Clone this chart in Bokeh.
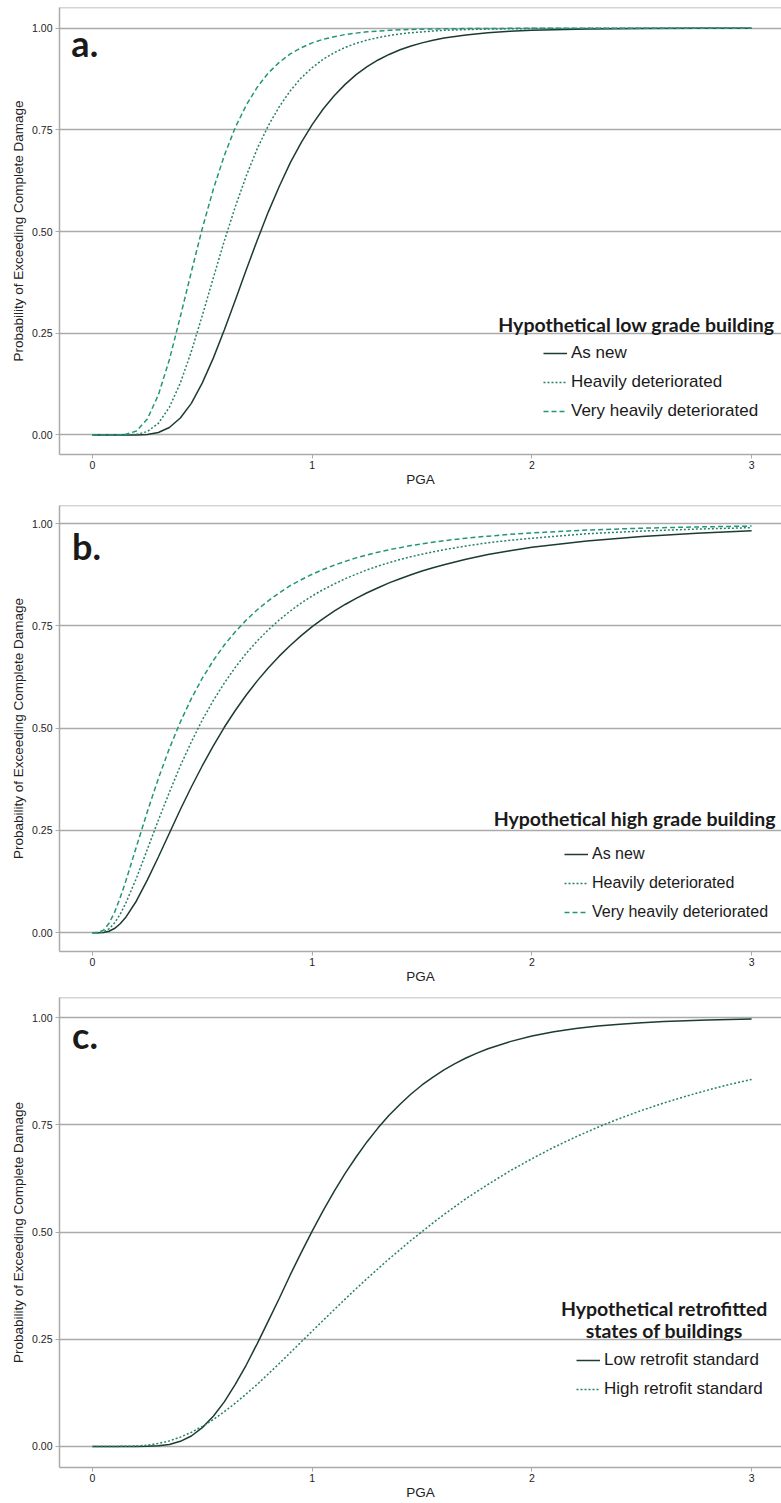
from bokeh.plotting import figure
from bokeh.layouts import column
from bokeh.models import (Range1d, FixedTicker, NumeralTickFormatter, Legend, LegendItem,
                          Label, Span)
from bokeh.embed import file_html
from bokeh.resources import INLINE

# ---------------- data ----------------
PGA_A = [0, 0.1, 0.15, 0.2, 0.25, 0.3, 0.35, 0.4, 0.45, 0.5, 0.55, 0.6, 0.65, 0.7, 0.75,
         0.8, 0.85, 0.9, 0.95, 1.0, 1.05, 1.1, 1.15, 1.2, 1.25, 1.3, 1.35, 1.4, 1.45, 1.5,
         1.55, 1.6, 1.7, 1.8, 1.9, 2.0, 2.25, 2.5, 2.75, 3.0]
A_NEW = [0, 0, 0, 0.0002, 0.0014, 0.0062, 0.0183, 0.0416, 0.0778, 0.128, 0.189, 0.258, 0.331,
         0.406, 0.479, 0.548, 0.611, 0.669, 0.719, 0.763, 0.8015, 0.834, 0.862, 0.886, 0.9054,
         0.922, 0.9356, 0.947, 0.9564, 0.964, 0.9705, 0.976, 0.9836, 0.989, 0.9925, 0.995,
         0.998, 0.9992, 0.9997, 0.9999]
A_HEAVY = [0, 0, 0.0001, 0.0014, 0.0085, 0.0287, 0.068, 0.128, 0.205, 0.294, 0.386, 0.477,
           0.561, 0.637, 0.704, 0.760, 0.807, 0.846, 0.878, 0.903, 0.9237, 0.940, 0.9527,
           0.963, 0.9709, 0.977, 0.9821, 0.986, 0.9890, 0.991, 0.9932, 0.995, 0.9967, 0.998,
           0.9987, 0.9992, 0.9997, 0.9999, 1.0, 1.0]
A_VHEAVY = [0, 0, 0.0011, 0.0099, 0.0395, 0.0985, 0.185, 0.291, 0.401, 0.508, 0.604, 0.687,
            0.756, 0.811, 0.855, 0.890, 0.916, 0.937, 0.952, 0.964, 0.9728, 0.979, 0.9845,
            0.988, 0.9911, 0.993, 0.9949, 0.996, 0.9970, 0.9977, 0.9983, 0.9986, 0.9992,
            0.9995, 0.9997, 0.9998, 1.0, 1.0, 1.0, 1.0]

PGA_B = [0, 0.025, 0.05, 0.075, 0.1, 0.125, 0.15, 0.2, 0.25, 0.3, 0.35, 0.4, 0.45, 0.5, 0.55,
         0.6, 0.65, 0.7, 0.75, 0.8, 0.85, 0.9, 0.95, 1.0, 1.05, 1.1, 1.15, 1.2, 1.25, 1.3,
         1.35, 1.4, 1.45, 1.5, 1.55, 1.6, 1.7, 1.8, 1.9, 2.0, 2.25, 2.5, 2.75, 3.0]
B_NEW = [0, 0, 0.0006, 0.0035, 0.0101, 0.0211, 0.0362, 0.0775, 0.129, 0.185, 0.243, 0.301,
         0.356, 0.408, 0.4566, 0.502, 0.543, 0.581, 0.6154, 0.647, 0.6758, 0.702, 0.7261,
         0.748, 0.7676, 0.786, 0.8021, 0.817, 0.8308, 0.843, 0.8548, 0.865, 0.8749, 0.884,
         0.8919, 0.899, 0.9126, 0.924, 0.9333, 0.942, 0.957, 0.968, 0.976, 0.982]
B_HEAVY = [0, 0.0001, 0.0021, 0.0093, 0.0234, 0.0441, 0.0701, 0.133, 0.204, 0.275, 0.343,
           0.408, 0.466, 0.520, 0.5675, 0.610, 0.6484, 0.683, 0.713, 0.740, 0.7643, 0.786,
           0.8056, 0.823, 0.8385, 0.852, 0.8652, 0.876, 0.8867, 0.896, 0.9043, 0.912, 0.9188,
           0.925, 0.9307, 0.936, 0.945, 0.953, 0.959, 0.964, 0.975, 0.9815, 0.9864, 0.9898]
B_VHEAVY = [0, 0.0004, 0.0062, 0.0225, 0.049, 0.0838, 0.123, 0.210, 0.296, 0.377, 0.450,
            0.515, 0.572, 0.622, 0.665, 0.703, 0.7354, 0.764, 0.7892, 0.811, 0.8305, 0.848,
            0.8626, 0.876, 0.8877, 0.898, 0.9074, 0.916, 0.9232, 0.930, 0.9359, 0.941, 0.9461,
            0.950, 0.9544, 0.958, 0.9642, 0.969, 0.9737, 0.977, 0.984, 0.9885, 0.9916, 0.9937]

PGA_C = [0, 0.1, 0.2, 0.25, 0.3, 0.35, 0.4, 0.45, 0.5, 0.55, 0.6, 0.65, 0.7, 0.75, 0.8, 0.85,
         0.9, 0.95, 1.0, 1.05, 1.1, 1.15, 1.2, 1.25, 1.3, 1.35, 1.4, 1.45, 1.5, 1.55, 1.6,
         1.65, 1.7, 1.75, 1.8, 1.9, 2.0, 2.1, 2.2, 2.3, 2.4, 2.5, 2.6, 2.7, 2.8, 2.9, 3.0]
C_LOW = [0, 0, 0.0, 0.0003, 0.0015, 0.0048, 0.012, 0.0245, 0.044, 0.0705, 0.104, 0.145, 0.190,
         0.240, 0.2925, 0.345, 0.400, 0.452, 0.502, 0.5499, 0.595, 0.6368, 0.675, 0.7108,
         0.743, 0.7722, 0.798, 0.8219, 0.843, 0.8615, 0.878, 0.8928, 0.906, 0.9172, 0.9274,
         0.9441, 0.957, 0.9669, 0.9745, 0.9804, 0.9848, 0.9883, 0.991, 0.9930, 0.9946,
         0.9958, 0.9967]
C_HIGH = [0, 0, 0.0010, 0.0031, 0.0070, 0.0131, 0.0219, 0.033, 0.0469, 0.0629, 0.081, 0.101,
          0.1226, 0.145, 0.169, 0.1935, 0.2186, 0.2438, 0.269, 0.2941, 0.319, 0.3437, 0.368,
          0.3916, 0.4146, 0.4375, 0.459, 0.4809, 0.501, 0.5215, 0.541, 0.5594, 0.578, 0.5946,
          0.611, 0.6426, 0.671, 0.6978, 0.722, 0.7445, 0.765, 0.7838, 0.801, 0.8166, 0.831,
          0.8442, 0.856]

Y_TICKS = [0, 0.25, 0.5, 0.75, 1.0]
X_TICKS = [0, 1, 2, 3]
X_LABEL = "PGA"
Y_LABEL = "Probability of Exceeding Complete Damage"

TITLE_A = "Hypothetical low grade building"
TITLE_B = "Hypothetical high grade building"
TITLE_C1 = "Hypothetical retrofitted"
TITLE_C2 = "states of buildings"
NAMES_AB = ["As new", "Heavily deteriorated", "Very heavily deteriorated"]
NAMES_C = ["Low retrofit standard", "High retrofit standard"]

# ---------------- styles ----------------
DARK = "#1c3b31"
MID = "#26806a"
LIGHT = "#23967a"
GREY = "#aaaaaa"
X_START, X_END = -0.15, 3.136


def make_panel(height, top, bottom, y0, y1):
    p = figure(width=781, height=height, output_backend="svg", toolbar_location=None,
               x_range=Range1d(X_START, X_END), y_range=Range1d(y0, y1),
               min_border_left=59, min_border_right=0, min_border_top=top,
               min_border_bottom=bottom)
    p.outline_line_color = None
    p.background_fill_color = "white"
    p.border_fill_color = "white"
    p.xgrid.visible = False
    p.ygrid.grid_line_color = GREY
    p.ygrid.grid_line_width = 1.5
    p.xaxis.ticker = FixedTicker(ticks=X_TICKS)
    p.yaxis.ticker = FixedTicker(ticks=Y_TICKS)
    p.yaxis.formatter = NumeralTickFormatter(format="0.00")
    for ax in (p.xaxis, p.yaxis):
        ax.axis_line_color = GREY
        ax.axis_line_width = 1.5
        ax.major_tick_line_color = GREY
        ax.major_tick_line_width = 1
        ax.major_tick_out = 4
        ax.major_tick_in = 0
        ax.minor_tick_line_color = None
        ax.major_label_text_font = "Liberation Sans"
        ax.major_label_text_font_size = "10.5px"
        ax.major_label_text_color = "#222222"
        ax.axis_label_text_font = "Liberation Sans"
        ax.axis_label_text_font_style = "normal"
        ax.axis_label_text_font_size = "13.5px"
        ax.axis_label_text_color = "#222222"
    p.xaxis.major_label_standoff = 2
    p.xaxis.axis_label_standoff = 0
    p.yaxis.major_label_standoff = 3
    p.yaxis.axis_label_standoff = 3
    p.xaxis.axis_label = X_LABEL
    p.yaxis.axis_label = Y_LABEL
    p.add_layout(Span(location=y1, dimension="width", line_color=GREY, line_width=1.5))
    return p


def add_legend(p, items, loc, size):
    leg = Legend(items=items, location=loc, padding=0, margin=0, spacing=9,
                 glyph_width=24, glyph_height=20, label_height=20, label_standoff=4,
                 border_line_color=None, background_fill_alpha=0,
                 label_text_font="Liberation Sans", label_text_font_size=size,
                 label_text_color="#1a1a1a")
    p.add_layout(leg, "center")


def add_title(p, text, x, y, align="right"):
    p.add_layout(Label(x=x, y=y, text=text, text_align=align, text_baseline="alphabetic",
                       text_font="Lato", text_font_style="bold", text_font_size="19.5px",
                       text_color="#1a1a1a"))


def add_tag(p, text, x, y):
    p.add_layout(Label(x=x, y=y, text=text, text_align="left", text_baseline="alphabetic",
                       text_font="Lato", text_font_style="bold", text_font_size="36px",
                       text_color="#1a1a1a"))


# ---------------- panel a ----------------
pa = make_panel(495, 7, 41, -0.048, 1.051)
ra1 = pa.line(PGA_A, A_NEW, line_color=DARK, line_width=1.5)
ra2 = pa.line(PGA_A, A_HEAVY, line_color=MID, line_width=1.5, line_dash="2 2")
ra3 = pa.line(PGA_A, A_VHEAVY, line_color=LIGHT, line_width=1.5, line_dash="5 3")
add_legend(pa, [LegendItem(label=n, renderers=[r]) for n, r in zip(NAMES_AB, [ra1, ra2, ra3])],
           (484, 32.6), "17px")
add_title(pa, TITLE_A, 3.104, 0.2715)
add_tag(pa, "a.", -0.096, 0.964)

# ---------------- panel b ----------------
pb = make_panel(494, 10, 38, -0.046, 1.044)
rb1 = pb.line(PGA_B, B_NEW, line_color=DARK, line_width=1.5)
rb2 = pb.line(PGA_B, B_HEAVY, line_color=MID, line_width=1.5, line_dash="2 2")
rb3 = pb.line(PGA_B, B_VHEAVY, line_color=LIGHT, line_width=1.5, line_dash="5 3")
add_legend(pb, [LegendItem(label=n, renderers=[r]) for n, r in zip(NAMES_AB, [rb1, rb2, rb3])],
           (505, 28.7), "16px")
add_title(pb, TITLE_B, 3.109, 0.2785)
add_tag(pb, "b.", -0.093, 0.9455)

# ---------------- panel c ----------------
pc = make_panel(514, 8, 36, -0.049, 1.047)
rc1 = pc.line(PGA_C, C_LOW, line_color=DARK, line_width=1.5)
rc2 = pc.line(PGA_C, C_HIGH, line_color=MID, line_width=1.5, line_dash="2 2")
add_legend(pc, [LegendItem(label=n, renderers=[r]) for n, r in zip(NAMES_C, [rc1, rc2])],
           (517, 68), "17px")
add_title(pc, TITLE_C1, 2.602, 0.3218, align="center")
add_title(pc, TITLE_C2, 2.602, 0.270, align="center")
add_tag(pc, "c.", -0.093, 0.959)

layout = column(pa, pb, pc, spacing=0)
open("out.html", "w").write(file_html(layout, INLINE))
